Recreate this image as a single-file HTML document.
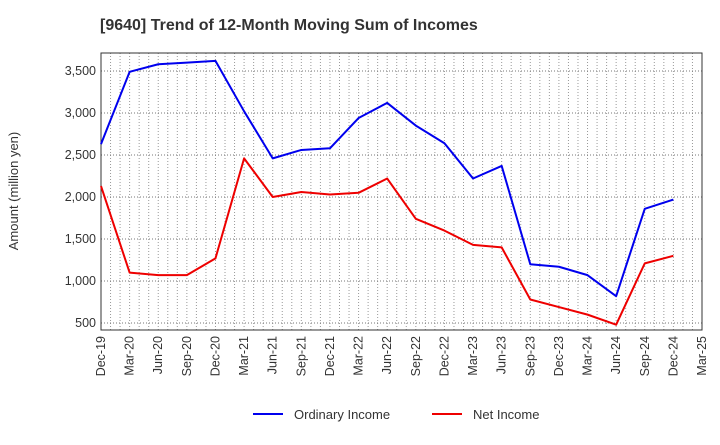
<!DOCTYPE html>
<html><head><meta charset="utf-8"><style>
body{margin:0;background:#fff;font-family:"Liberation Sans",sans-serif}
</style></head><body>
<svg width="720" height="440" xmlns="http://www.w3.org/2000/svg" font-family="Liberation Sans, sans-serif">
<text x="100" y="30" font-size="16" font-weight="bold" fill="#333">[9640]  Trend of 12-Month Moving Sum of Incomes</text>
<g id="grid"></g>
<g id="ticks"></g>
<rect x="101" y="53" width="601" height="277" fill="none" stroke="#333"/>
<g id="series"></g>
<text transform="translate(18,191) rotate(-90)" text-anchor="middle" font-size="13" fill="#333">Amount (million yen)</text>
<g>
<line x1="253" y1="414" x2="283" y2="414" stroke="#0000ee" stroke-width="2"/>
<text x="294" y="419" font-size="13" fill="#333">Ordinary Income</text>
<line x1="432" y1="414" x2="462" y2="414" stroke="#ee0000" stroke-width="2"/>
<text x="473" y="419" font-size="13" fill="#333">Net Income</text>
</g>
</svg>
<script>
const categories=["Dec-19","Mar-20","Jun-20","Sep-20","Dec-20","Mar-21","Jun-21","Sep-21","Dec-21","Mar-22","Jun-22","Sep-22","Dec-22","Mar-23","Jun-23","Sep-23","Dec-23","Mar-24","Jun-24","Sep-24","Dec-24","Mar-25"];
const ordinaryIncome=[2630,3490,3580,3600,3620,3020,2460,2560,2580,2940,3120,2850,2640,2220,2370,1200,1170,1070,820,1860,1970];
const netIncome=[2130,1100,1070,1070,1270,2460,2000,2060,2030,2050,2220,1740,1600,1430,1400,780,690,600,480,1210,1300];
const yTicks=[500,1000,1500,2000,2500,3000,3500];
const yTickLabels=["500","1,000","1,500","2,000","2,500","3,000","3,500"];
const X0=101,X1=702,Y0=330,Y1=53,YMIN=417,YMAX=3714;
const ns="http://www.w3.org/2000/svg";
const xs=i=>X0+(X1-X0)*i/(categories.length-1);
const ys=v=>Y0-(v-YMIN)/(YMAX-YMIN)*(Y0-Y1);
function mk(t,a,p){const e=document.createElementNS(ns,t);for(const k in a)e.setAttribute(k,a[k]);p.appendChild(e);return e;}
const grid=document.getElementById('grid'),ticks=document.getElementById('ticks'),series=document.getElementById('series');
const nm=(categories.length-1)*3;
for(let m=1;m<nm;m++){const x=X0+(X1-X0)*m/nm;
const l=mk('line',{x1:x,x2:x,y1:Y1,y2:Y0,stroke:'#999','stroke-dasharray':'1,2'},grid);

}
yTicks.forEach((v,i)=>{const y=ys(v);
const l=mk('line',{x1:X0,x2:X1,y1:y,y2:y,stroke:'#777','stroke-dasharray':'1,2'},grid);


const t=mk('text',{x:X0-5,y:y+4,'text-anchor':'end','font-size':12.5,fill:'#333'},ticks);t.textContent=yTickLabels[i];

});
categories.forEach((c,i)=>{const x=xs(i);
const t=mk('text',{transform:`translate(${x+4},336) rotate(-90)`,'text-anchor':'end','font-size':12.5,fill:'#333'},ticks);t.textContent=c;

});
function line(d,c,n){const p=mk('polyline',{points:d.map((v,i)=>xs(i)+','+ys(v)).join(' '),fill:'none',stroke:c,'stroke-width':2,'stroke-linejoin':'round'},series);

}
line(ordinaryIncome,'#0000ee','ordinary-income-line');
line(netIncome,'#ee0000','net-income-line');
</script>
</body></html>
